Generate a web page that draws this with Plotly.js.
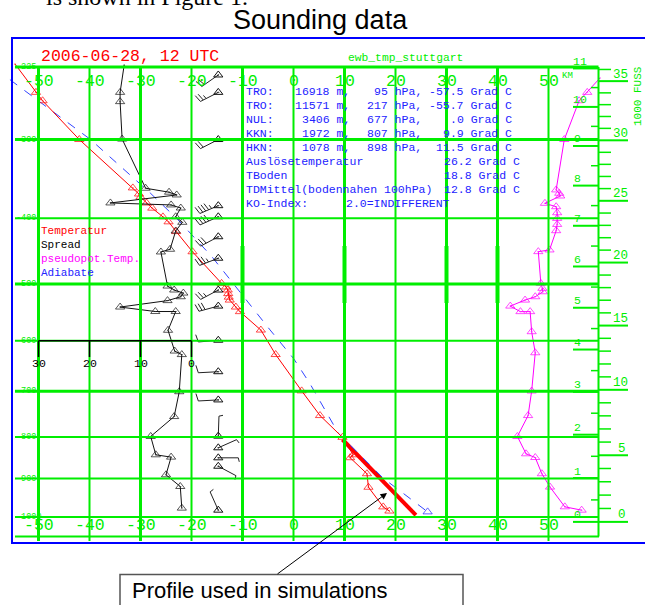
<!DOCTYPE html>
<html><head><meta charset="utf-8">
<script src="https://cdn.plot.ly/plotly-3.0.1.min.js"></script>
<style>html,body{margin:0;padding:0;background:#fff;} #chart{width:645px;height:605px;}</style>
</head><body><div id="chart"></div>
<script>
// ---------------- data ----------------
// Temperature profile (hPa, deg C)
const tempP = [222.3, 249.5, 258, 300, 359, 367, 371, 379, 386, 398, 405, 419, 449, 499, 505, 510, 516, 522, 527, 539, 547, 580, 626, 699, 752, 801, 842, 849, 888, 922, 973, 984];
const tempT = [-54.6, -50.5, -49.2, -42.0, -31.5, -30.3, -30.0, -28.8, -27.7, -25.6, -24.5, -23.0, -19.8, -14.1, -13.2, -12.9, -12.8, -12.7, -12.5, -11.3, -10.5, -6.4, -3.5, 1.6, 5.2, 9.6, 11.7, 11.1, 14.4, 14.7, 17.6, 18.8];
// Spread (dew-point depression, deg C)
const spreadP = [223.2, 249.5, 258.9, 299.5, 359.4, 364.6, 368.2, 378.9, 381.6, 385.8, 397.9, 405.7, 418.1, 445.2, 449.3, 503.4, 510, 515.1, 521.3, 527.9, 539.0, 546.8, 546.8, 580.4, 619.3, 626.1, 700.8, 754.2, 799, 842, 847.5, 890.7, 920.1, 976.3];
const spreadV = [13.2, 14.0, 14.0, 13.6, 9.0, 4.4, 2.9, 15.9, 4.0, 2.1, 3.1, 1.8, 3.1, 4.2, 6.0, 4.7, 3.4, 1.6, 2.1, 4.7, 14.0, 7.1, 3.1, 4.6, 3.3, 1.9, 2.4, 3.4, 8.0, 7.0, 4.0, 5.0, 2.2, 1.9];
// Pseudo-potential temperature (deg C)
const thetaP = [235.4, 249.5, 258.0, 300, 361.6, 366.0, 369.6, 379.4, 384.0, 392.3, 400.2, 408.7, 417.7, 446.2, 448.8, 499, 507.2, 512.9, 521.3, 527, 537.3, 547, 547, 583.0, 622.6, 699.3, 752, 799, 839.6, 848.5, 888, 921.6, 972.8, 981.7];
const thetaT = [60.1, 57.6, 56.0, 53.1, 51.5, 52.1, 52.3, 49.3, 51.5, 51.7, 51.7, 51.7, 51.5, 50.2, 48.0, 48.5, 48.8, 48.9, 47.4, 45.4, 42.5, 44.5, 46.4, 46.7, 47.4, 46.7, 46.0, 43.9, 45.6, 47.4, 48.7, 50.3, 53.2, 56.5];
// Adiabate
const adiaP = [237, 300, 365.6, 402.5, 456.5, 521.3, 579.7, 633.5, 683.6, 791.7, 899.2, 986.2];
const adiaT = [-55.6, -39.8, -28.1, -22.6, -16.0, -9.8, -4.6, 0.0, 3.2, 8.8, 17.6, 26.3];
// Profile used in simulations
const simP = [806, 995];
const simT = [9.6, 24.0];
// Wind (hPa, direction deg, speed kt)
const windP = [232.5, 249.5, 300, 382.6, 397.9, 426.5, 458.9, 510, 537.3, 598.8, 659.8, 718.1, 798.3, 825.4, 849.2, 869.6, 981.7];
const windDir = [235, 243, 243, 247, 246, 242, 249, 242, 255, 265, 267, 267, 2, 66, 90, 118, 336];
const windSpd = [20, 25, 20, 45, 40, 30, 35, 25, 30, 10, 10, 10, 5, 5, 5, 5, 5];
// Ticks
const tempTicks = [-50, -40, -30, -20, -10, 0, 10, 20, 30, 40, 50];
const presTicks = [225, 300, 400, 500, 600, 700, 800, 900, 1000];
const spreadTicks = [30, 20, 10, 0];
const kmTicks = [0, 1, 2, 3, 4, 5, 6, 7, 8, 9, 10, 11];
const fussTicks = [0, 5, 10, 15, 20, 25, 30, 35];
// Texts
const infoLabels = ['TRO:', 'TRO:', 'NUL:', 'KKN:', 'HKN:'];
const infoHeight = [16918, 11571, 3406, 1972, 1078];
const infoPress = [95, 217, 677, 807, 898];
const infoTemp = ['-57.5', '-55.7', '.0', '9.9', '11.5'];
const extraLabels = ['Auslösetemperatur', 'TBoden', 'TDMittel(bodennahen 100hPa)'];
const extraTemps = ['26.2', '18.8', '12.8'];
const koLabel = 'KO-Index:';
const koValue = '2.0=INDIFFERENT';
const legendNames = ['Temperatur', 'Spread', 'pseudopot.Temp.', 'Adiabate'];

// ---------------- geometry helpers ----------------
const GREEN = '#00ee00', BLUE = '#0000ff', TXTBLUE = '#2222ff', RED = '#ff0000', MAG = '#ff00ff';
const MONO = 'Liberation Mono, DejaVu Sans Mono, monospace';
const KAP = 0.286;
const Yp = p => Math.pow(p, KAP);
const Y225 = Yp(225), YS = (Yp(1000) - Yp(225)) / 450;
const X0 = 293.5, PXT = 5.1;
const X = px => (px - X0) / PXT;            // pixel -> data x
const Ypx = py => Y225 + (py - 67) * YS;    // pixel -> data y
const pxOfX = x => X0 + x * PXT;
const pyOfY = y => 67 + (y - Y225) / YS;
const stdP = h => 1013.25 * Math.pow(1 - 2.25577e-5 * h, 5.25588);
const nb = s => s.replace(/ /g, '\u00a0');

const shapes = [], ann = [];
function hline(y, x0, x1, color, w) { shapes.push({type:'line', xref:'x', yref:'y', x0:x0, x1:x1, y0:y, y1:y, line:{color:color, width:w}}); }
function vline(x, y0, y1, color, w) { shapes.push({type:'line', xref:'x', yref:'y', x0:x, x1:x, y0:y0, y1:y1, line:{color:color, width:w}}); }
function txt(text, x, y, size, color, anchor, extra) {
  ann.push(Object.assign({text:text, x:x, y:y, xref:'x', yref:'y', showarrow:false, xanchor:anchor||'center', yanchor:'middle',
    font:{family:MONO, size:size, color:color}}, extra||{}));
}

// grid: vertical isotherms
const vW = [3, 2, 3, 2, 3, 2, 3, 2, 3, 3, 2];
tempTicks.forEach((t, i) => vline(t, Ypx(67), Ypx(541), GREEN, vW[i]));
[-10, 10, 30, 40].forEach(t => vline(t, Ypx(246), Ypx(303), GREEN, 4));
// grid: isobars
const hW = [3, 3, 2, 3, 2, 3, 2, 2, 2];
presTicks.forEach((p, i) => hline(Yp(p), X(15), X(598.5), GREEN, hW[i]));
hline(Ypx(536.5), X(15), X(599), GREEN, 2);
// height axis
vline(X(598.5), Ypx(67), Ypx(536.5), GREEN, 2);
kmTicks.forEach(k => {
  const y = Yp(stdP(k * 1000));
  hline(y, X(573), X(598.5), GREEN, 2);
  if (k < 11) hline(Yp(stdP(k * 1000 + 500)), X(591), X(598.5), GREEN, 1.5);
});
for (let f = 0; f <= 36; f++) {
  const y = Yp(stdP(f * 304.8));
  hline(y, X(598.5), X(f % 5 === 0 ? 628 : 611), GREEN, f % 5 === 0 ? 2 : 1.5);
}
// spread inset scale
hline(Yp(600), -20 - 30, -20, '#000', 1.5);
spreadTicks.forEach(s => vline(-20 - s, Yp(600), Ypx(357), '#000', 1.5));

// blue frame
shapes.push({type:'rect', xref:'paper', yref:'paper', x0:12/645, x1:1.02, y0:1-543/605, y1:1-38/605, line:{color:BLUE, width:2}});
// caption box
shapes.push({type:'rect', xref:'paper', yref:'paper', x0:120/645, x1:463/645, y0:-0.02, y1:1-574.5/605, line:{color:'#555', width:1.5}});

// ---------------- texts ----------------
tempTicks.forEach(t => {
  txt(String(t), t, Ypx(81.5), 16.5, GREEN);
  txt(String(t), t, Ypx(525.5), 16.5, GREEN);
});
presTicks.forEach(p => txt('-' + p, X(13.5), Yp(p), 8.5, GREEN, 'left'));
spreadTicks.forEach(s => txt(String(s), -20 - s, Ypx(363.5), 11.5, '#000'));
kmTicks.forEach(k => txt(String(k), X(k >= 10 ? 580 : 577.5), Yp(stdP(k * 1000)) - 7 * YS, 11.5, GREEN));
fussTicks.forEach(f => txt(String(f), X(f >= 10 ? 620 : 621.5), Yp(stdP(f * 304.8)) - 6.5 * YS, 12.5, GREEN));
txt('KM', X(567), Ypx(76), 9, GREEN);
txt('1000 FUSS', X(638), Ypx(96), 11, GREEN, 'center', {textangle:-90});

txt('2006-06-28, 12 UTC', X(38.5), Ypx(56.5), 16.5, RED, 'left');
txt('ewb_tmp_stuttgart', X(405.5), Ypx(58.3), 11.3, GREEN);

const INFO_FS = 11.5;
infoLabels.forEach((lab, i) => {
  const y = Ypx(91.7 + 13.9 * i);
  txt(lab, X(244), y, INFO_FS, TXTBLUE, 'left');
  txt(nb(infoHeight[i] + ' m,'), X(351.5), y, INFO_FS, TXTBLUE, 'right');
  txt(nb(infoPress[i] + ' hPa,'), X(423.5), y, INFO_FS, TXTBLUE, 'right');
  txt(nb(infoTemp[i] + ' Grad C'), X(514), y, INFO_FS, TXTBLUE, 'right');
});
extraLabels.forEach((lab, i) => {
  const y = Ypx(91.7 + 13.9 * (i + 5));
  txt(lab, X(244), y, INFO_FS, TXTBLUE, 'left');
  txt(nb(extraTemps[i] + ' Grad C'), X(522), y, INFO_FS, TXTBLUE, 'right');
});
txt(koLabel, X(244), Ypx(203), INFO_FS, TXTBLUE, 'left');
txt(koValue, X(344), Ypx(203), INFO_FS, TXTBLUE, 'left');

const legCols = [RED, '#000', MAG, TXTBLUE];
legendNames.forEach((n, i) => txt(n, X(38.5), Ypx(231 + 14.1 * i), 11, legCols[i], 'left'));

// document texts
ann.push({text:'Sounding data', xref:'paper', yref:'paper', x:320/645, y:1-20/605, showarrow:false, xanchor:'center', yanchor:'middle',
  font:{family:'Liberation Sans, Arial, sans-serif', size:27, color:'#000'}});
ann.push({text:'is shown in Figure 1.', xref:'paper', yref:'paper', x:44/645, y:1+3/605, showarrow:false, xanchor:'left', yanchor:'middle',
  font:{family:'Liberation Serif, Times New Roman, serif', size:24, color:'#000'}});
ann.push({text:'Profile used in simulations', xref:'paper', yref:'paper', x:130/645, y:1-590/605, showarrow:false, xanchor:'left', yanchor:'middle',
  font:{family:'Liberation Sans, Arial, sans-serif', size:22, color:'#000'}});
ann.push({text:'', xref:'x', yref:'y', x:X(387), y:Ypx(493), showarrow:true, ax:276-387, ay:575-493,
  arrowhead:2, arrowsize:1.3, arrowwidth:1, arrowcolor:'#000', standoff:0});

// ---------------- traces ----------------
const Y = arr => arr.map(Yp);
const sizesSkipFirst = n => Array.from({length:n}, (_, i) => i === 0 ? 0 : 8);
const traces = [];
traces.push({type:'scatter', mode:'lines', x:simT, y:Y(simP), line:{color:RED, width:4}, hoverinfo:'skip'});
traces.push({type:'scatter', mode:'lines+markers', x:adiaT, y:Y(adiaP), line:{color:'#3344ff', width:1, dash:'dash'},
  marker:{symbol:'triangle-up-open', color:'#2222ff', size:adiaP.map((p, i) => i === adiaP.length - 1 ? 8 : 0), line:{width:1}}});
traces.push({type:'scatter', mode:'lines+markers', x:tempT, y:Y(tempP), line:{color:RED, width:1},
  marker:{symbol:'triangle-up-open-dot', color:RED, size:sizesSkipFirst(tempP.length), line:{width:1}}});
traces.push({type:'scatter', mode:'lines+markers', x:spreadV.map(s => -20 - s), y:Y(spreadP), line:{color:'#111', width:1},
  marker:{symbol:'triangle-up-open-dot', color:'#111', size:sizesSkipFirst(spreadP.length), line:{width:1}}});
traces.push({type:'scatter', mode:'lines+markers', x:thetaT, y:Y(thetaP), line:{color:MAG, width:1},
  marker:{symbol:'triangle-up-open-dot', color:MAG, size:sizesSkipFirst(thetaP.length), line:{width:1}}});

// wind barbs
const STATION_T = -14.75;
const bx = [], by = [];
windP.forEach((p, i) => {
  const sx = pxOfX(STATION_T), sy = pyOfY(Yp(p));
  const th = windDir[i] * Math.PI / 180;
  const ux = Math.sin(th), uy = -Math.cos(th);
  const rx = -uy, ry = ux;
  const L = 20;
  const tx = sx + L * ux, ty = sy + L * uy;
  const seg = (x0, y0, x1, y1) => { bx.push(X(x0), X(x1), null); by.push(Ypx(y0), Ypx(y1), null); };
  seg(sx, sy, tx, ty);
  let k = 0;
  const full = Math.floor(windSpd[i] / 10), half = (windSpd[i] % 10) >= 5;
  for (let j = 0; j < full; j++, k++) {
    const b0x = tx - k * 3.2 * ux, b0y = ty - k * 3.2 * uy;
    seg(b0x, b0y, b0x + 7.5 * rx + 2 * ux, b0y + 7.5 * ry + 2 * uy);
  }
  if (half) {
    const b0x = tx - k * 3.2 * ux, b0y = ty - k * 3.2 * uy;
    seg(b0x, b0y, b0x + 4 * rx + 1 * ux, b0y + 4 * ry + 1 * uy);
  }
});
traces.push({type:'scatter', mode:'lines', x:bx, y:by, line:{color:'#222', width:1}, connectgaps:false, hoverinfo:'skip'});
traces.push({type:'scatter', mode:'markers', x:windP.map(() => STATION_T), y:Y(windP),
  marker:{symbol:'triangle-up-open-dot', color:'#111', size:8, line:{width:1}}});

const layout = {
  width:645, height:605, margin:{l:0, r:0, t:0, b:0, pad:0},
  paper_bgcolor:'#fff', plot_bgcolor:'#fff', showlegend:false, hovermode:false,
  xaxis:{range:[X(0), X(645)], visible:false, fixedrange:true},
  yaxis:{range:[Ypx(605), Ypx(0)], visible:false, fixedrange:true},
  shapes:shapes, annotations:ann
};
Plotly.newPlot('chart', traces, layout, {displayModeBar:false, staticPlot:true});
</script>
</body></html>
